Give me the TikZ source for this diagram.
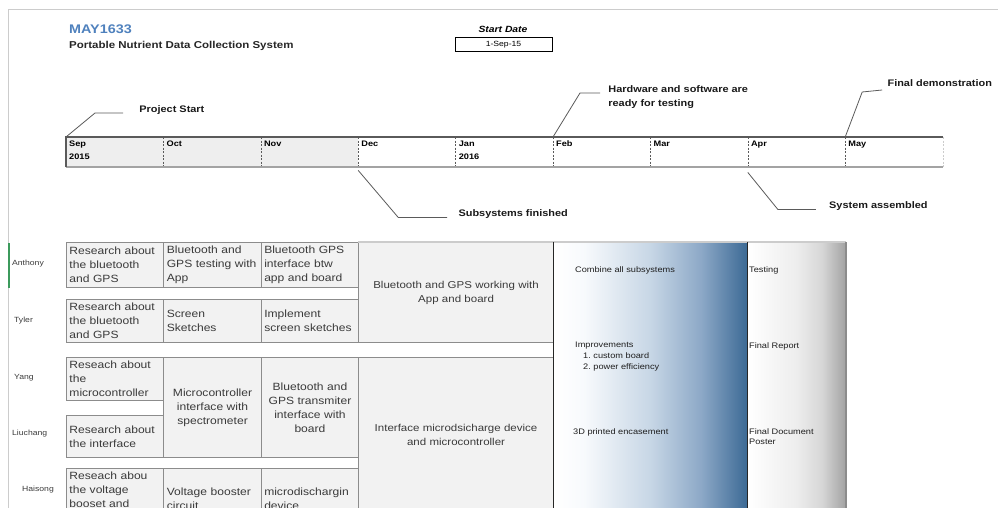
\documentclass[tikz,border=0pt]{standalone}
\usepackage{fontspec}
\setmainfont{Liberation Sans}[FakeStretch=1.15]
\definecolor{titleblue}{HTML}{4F81BD}
\definecolor{cellfill}{HTML}{F2F2F2}
\definecolor{cellline}{HTML}{8C8C8C}
\definecolor{celltext}{HTML}{3A3A3A}
\definecolor{barline}{HTML}{5A5A5A}
\definecolor{barshade}{HTML}{EEEEEE}
\definecolor{frameline}{HTML}{CCCCCC}
\definecolor{rowgreen}{HTML}{3C9A5C}
\pgfdeclarehorizontalshading{phaseblue}{100bp}{rgb(0bp)=(1,1,1); rgb(25bp)=(1,1,1); rgb(33bp)=(0.97,0.98,0.99); rgb(50bp)=(0.78,0.84,0.90); rgb(63bp)=(0.55,0.66,0.78); rgb(75bp)=(0.23,0.41,0.58); rgb(100bp)=(0.23,0.41,0.58)}
\pgfdeclarehorizontalshading{phasegray}{100bp}{rgb(0bp)=(1,1,1); rgb(25bp)=(1,1,1); rgb(50bp)=(0.93,0.93,0.93); rgb(63bp)=(0.84,0.84,0.84); rgb(75bp)=(0.64,0.64,0.64); rgb(100bp)=(0.64,0.64,0.64)}
\begin{document}
\begin{tikzpicture}[x=1pt,y=-1pt,
  cell/.style={draw=cellline, fill=cellfill, line width=0.9pt, anchor=north west,
    inner xsep=3pt, inner ysep=0pt, minimum width=97.4pt, text width=91.4pt,
    align=left, font=\fontsize{10.5}{14}\selectfont, text=celltext},
  ccell/.style={cell, align=center},
  bigcell/.style={cell, align=center, minimum width=194.8pt, text width=188.8pt,
    font=\fontsize{10}{14}\selectfont},
  month/.style={anchor=north west, minimum width=97.4pt, minimum height=30pt, inner sep=0pt},
  monthlbl/.style={anchor=north west, inner xsep=3pt, inner ysep=4pt, align=left,
    font=\bfseries\fontsize{8}{13}\selectfont},
  callout/.style={draw=barline, line width=0.8pt},
  milestone/.style={font=\bfseries\fontsize{9.5}{14}\selectfont, inner sep=0pt, align=left, text=black!90},
  member/.style={anchor=west, font=\fontsize{7.5}{9}\selectfont, text=celltext, inner sep=0pt},
  phasecol/.style={anchor=north west, minimum height=280pt, inner sep=0pt, shade},
  phasetxt/.style={anchor=west, inner sep=0pt, align=left, font=\fontsize{8}{11}\selectfont, text=black!88},
]
\useasboundingbox (0,0) rectangle (998,508);
\clip (0,0) rectangle (998,508);

% sheet frame
\draw[frameline, line width=1pt] (8,508) -- (8,10) -- (998,10);
\draw[rowgreen, line width=1.5pt] (9,243) -- (9,288);

% header
\node[anchor=west, inner sep=0pt, font=\bfseries\fontsize{12.5}{14}\selectfont, text=titleblue] (title) at (69,29) {MAY1633};
\node[anchor=west, inner sep=0pt, font=\bfseries\fontsize{10}{12}\selectfont, text=black!85] (subtitle) at (69,46) {Portable Nutrient Data Collection System};
\node[inner sep=0pt, font=\bfseries\itshape\fontsize{9}{11}\selectfont] (startlbl) at (503,29) {Start Date};
\node[draw, line width=1pt, minimum width=97pt, minimum height=14pt, inner sep=0pt, font=\fontsize{7.5}{9}\selectfont] (startdate) at (503.5,45) {1-Sep-15};

% timeline
\fill[barshade] (66,137) rectangle (358.2,167);
\foreach \m [count=\i] in {Sep\\2015,Oct,Nov,Dec,Jan\\2016,Feb,Mar,Apr,May} {
  \node[month] (m\i) at ({66+(\i-1)*97.4},137) {};
  \node[monthlbl] (ml\i) at (m\i.north west) {\m};
}
\foreach \i in {2,...,9}
  \draw[barline, dash pattern=on 2pt off 1.5pt, line width=0.6pt] (m\i.north west) -- (m\i.south west);
\draw[frameline, dash pattern=on 2pt off 1.5pt, line width=1pt] (m9.north east) -- (m9.south east);
\draw[frameline!80!black, line width=2pt] (m1.south west) -- (m9.south east);
\draw[barline, line width=1.2pt] (m1.south west) -- (m1.north west) -- (m9.north east);

% milestones
\draw[callout] (m1.north west) -- ++(29,-24) -- ++(28,0)
  node[milestone, anchor=west, xshift=16pt, yshift=3pt] (projstart) {Project Start};
\draw[callout] (m6.north west) -- ++(27,-44) -- ++(20,0)
  node[milestone, anchor=north west, xshift=8pt, yshift=8pt] (hwready) {Hardware and software are\\ready for testing};
\draw[callout] (m9.north west) -- ++(17,-45) -- ++(20,-2)
  node[milestone, anchor=west, xshift=5pt, yshift=7pt] (finaldemo) {Final demonstration};
\draw[callout] ([yshift=-3pt]m4.south west) -- ++(40,47) -- ++(49,0)
  node[milestone, anchor=west, xshift=11pt, yshift=3pt] (subsys) {Subsystems finished};
\draw[callout] ([yshift=-5pt]m8.south west) -- ++(30,37) -- ++(38,0)
  node[milestone, anchor=west, xshift=13pt, yshift=3pt] (sysasm) {System assembled};

% team members
\node[member] (anthony) at (12,264) {Anthony};
\node[member] (tyler) at (14,321) {Tyler};
\node[member] (yang) at (14,378) {Yang};
\node[member] (liuchang) at (12,434) {Liuchang};
\node[member] (haisong) at (22,490) {Haisong};

% tasks
\node[cell, minimum height=45pt] (a1) at (66,242) {Research about\\the bluetooth\\and GPS};
\node[cell, minimum height=45pt] (a2) at (163.4,242) {Bluetooth and\\GPS testing with\\App};
\node[cell, minimum height=45pt] (a3) at (260.8,242) {Bluetooth GPS\\interface btw\\app and board};
\node[cell, minimum height=43pt] (t1) at (66,299) {Research about\\the bluetooth\\and GPS};
\node[cell, minimum height=43pt] (t2) at (163.4,299) {Screen\\Sketches};
\node[cell, minimum height=43pt] (t3) at (260.8,299) {Implement\\screen sketches};
\node[bigcell, minimum height=100pt] (big1) at (358.2,242) {Bluetooth and GPS working with\\App and board};

\node[cell, minimum height=43pt] (y1) at (66,357) {Reseach about\\the\\microcontroller};
\node[cell, minimum height=42pt] (l1) at (66,415) {Research about\\the interface};
\node[ccell, minimum height=100pt] (y2) at (163.4,357) {Microcontroller\\interface with\\spectrometer};
\node[ccell, minimum height=100pt] (y3) at (260.8,357) {Bluetooth and\\GPS transmiter\\interface with\\board};
\node[bigcell, minimum height=154pt] (big2) at (358.2,357) {Interface microdsicharge device\\and microcontroller};

\node[cell, minimum height=60pt] (h1) at (66,468) {Reseach abou\\the voltage\\booset and\\\strut};
\node[cell, minimum height=60pt] (h2) at (163.4,468) {Voltage booster\\circuit};
\node[cell, minimum height=60pt] (h3) at (260.8,468) {microdischargin\\device};

% final phases
\node[phasecol, shading=phaseblue, minimum width=194.8pt] (bluecol) at (553,242) {};
\node[phasecol, shading=phasegray, minimum width=97.4pt] (graycol) at (747.8,242) {};
\draw[frameline, line width=1.5pt] (big1.north west) -- (graycol.north east);
\draw[black!85, line width=0.9pt] (bluecol.north west) -- (bluecol.south west);
\draw[black!85, line width=0.9pt] (graycol.north west) -- (graycol.south west);
\draw[cellline, line width=1.8pt] (graycol.north east) -- (graycol.south east);

\node[phasetxt] (combine) at (575,270) {Combine all subsystems};
\node[phasetxt] (improve) at (575,356.5) {Improvements\\\hspace*{8pt}1.\ custom board\\\hspace*{8pt}2.\ power efficiency};
\node[phasetxt] (encase) at (573,432) {3D printed encasement};
\node[phasetxt] (testing) at (749,270) {Testing};
\node[phasetxt] (report) at (749,346) {Final Report};
\node[phasetxt, font=\fontsize{8}{9.5}\selectfont] (docposter) at (749,436.5) {Final Document\\Poster};
\end{tikzpicture}
\end{document}
